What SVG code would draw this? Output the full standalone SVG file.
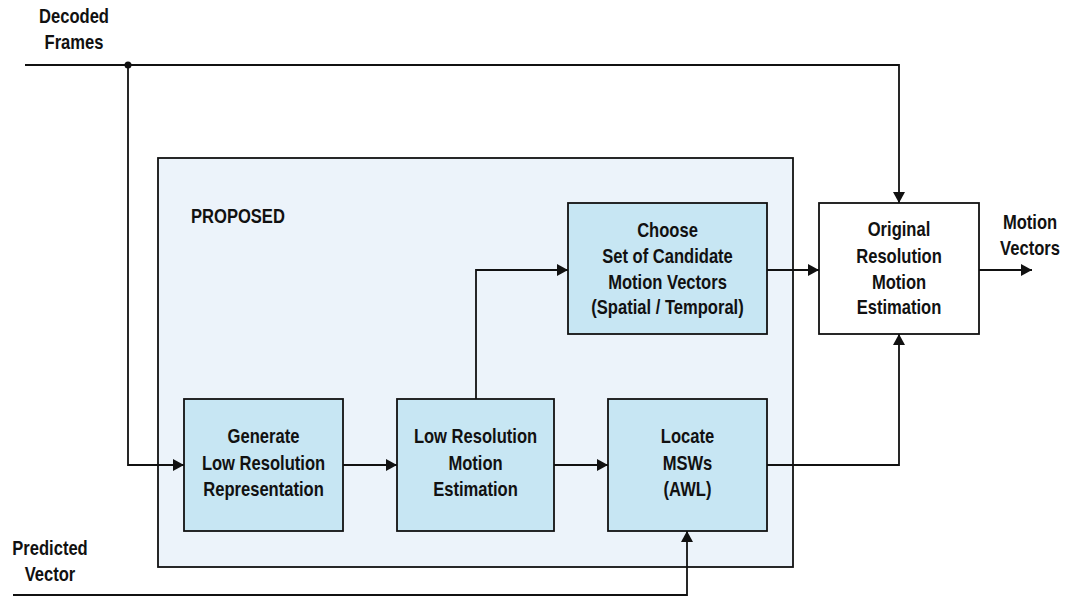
<svg xmlns="http://www.w3.org/2000/svg" width="1068" height="597" viewBox="0 0 1068 597">
<defs>
<style>
.t{font-family:"Liberation Sans",Arial,sans-serif;font-weight:bold;font-size:19.5px;fill:#111;text-anchor:middle}
.l{fill:none;stroke:#111;stroke-width:1.8}
.box{fill:#C7E6F3;stroke:#111;stroke-width:1.8}
</style>
<marker id="ah" viewBox="0 0 11 12" refX="11" refY="6" markerWidth="11" markerHeight="12" markerUnits="userSpaceOnUse" orient="auto">
<path d="M0,0 L11,6 L0,12 Z" fill="#111"/>
</marker>
</defs>
<rect width="1068" height="597" fill="#fff"/>
<g id="proposed">
<rect x="158" y="158" width="635" height="409" fill="#ECF3FA" stroke="#111" stroke-width="1.8"/>
<g transform="translate(191,223) scale(0.85,1)"><text class="t" style="text-anchor:start" x="0" y="0">PROPOSED</text></g>
</g>
<g id="connectors">
<path class="l" d="M25,65 H899 V203" marker-end="url(#ah)"/>
<circle cx="128" cy="65" r="3.5" fill="#111"/>
<path class="l" d="M128,65 V465 H184" marker-end="url(#ah)"/>
<path class="l" d="M343,465 H397" marker-end="url(#ah)"/>
<path class="l" d="M554,465 H608" marker-end="url(#ah)"/>
<path class="l" d="M476,399 V270 H568" marker-end="url(#ah)"/>
<path class="l" d="M767,270 H819" marker-end="url(#ah)"/>
<path class="l" d="M979,270 H1032" marker-end="url(#ah)"/>
<path class="l" d="M767,465 H899 V334" marker-end="url(#ah)"/>
<path class="l" d="M13,595 H687 V531" marker-end="url(#ah)"/>
</g>
<g id="generate">
<rect class="box" x="184" y="399" width="159" height="132"/>
<g transform="translate(263.5,0) scale(0.85,1)"><text class="t" x="0" y="443">Generate</text><text class="t" x="0" y="470">Low Resolution</text><text class="t" x="0" y="496">Representation</text></g>
</g>
<g id="lowres">
<rect class="box" x="397" y="399" width="157" height="132"/>
<g transform="translate(475.5,0) scale(0.85,1)"><text class="t" x="0" y="443">Low Resolution</text><text class="t" x="0" y="470">Motion</text><text class="t" x="0" y="496">Estimation</text></g>
</g>
<g id="locate">
<rect class="box" x="608" y="399" width="159" height="132"/>
<g transform="translate(687.5,0) scale(0.85,1)"><text class="t" x="0" y="443">Locate</text><text class="t" x="0" y="470">MSWs</text><text class="t" x="0" y="496">(AWL)</text></g>
</g>
<g id="choose">
<rect class="box" x="568" y="203" width="199" height="131"/>
<g transform="translate(667.5,0) scale(0.85,1)"><text class="t" x="0" y="237">Choose</text><text class="t" x="0" y="263">Set of Candidate</text><text class="t" x="0" y="289">Motion Vectors</text><text class="t" x="0" y="314">(Spatial / Temporal)</text></g>
</g>
<g id="original">
<rect x="819" y="203" width="160" height="131" fill="#fff" stroke="#111" stroke-width="1.8"/>
<g transform="translate(899,0) scale(0.85,1)"><text class="t" x="0" y="236">Original</text><text class="t" x="0" y="263">Resolution</text><text class="t" x="0" y="289">Motion</text><text class="t" x="0" y="314">Estimation</text></g>
</g>
<g id="decoded">
<g transform="translate(74,0) scale(0.85,1)"><text class="t" x="0" y="23">Decoded</text><text class="t" x="0" y="49">Frames</text></g>
</g>
<g id="predicted">
<g transform="translate(50,0) scale(0.85,1)"><text class="t" x="0" y="555">Predicted</text><text class="t" x="0" y="581">Vector</text></g>
</g>
<g id="motionvectors">
<g transform="translate(1030,0) scale(0.85,1)"><text class="t" x="0" y="229">Motion</text><text class="t" x="0" y="255">Vectors</text></g>
</g>
</svg>
